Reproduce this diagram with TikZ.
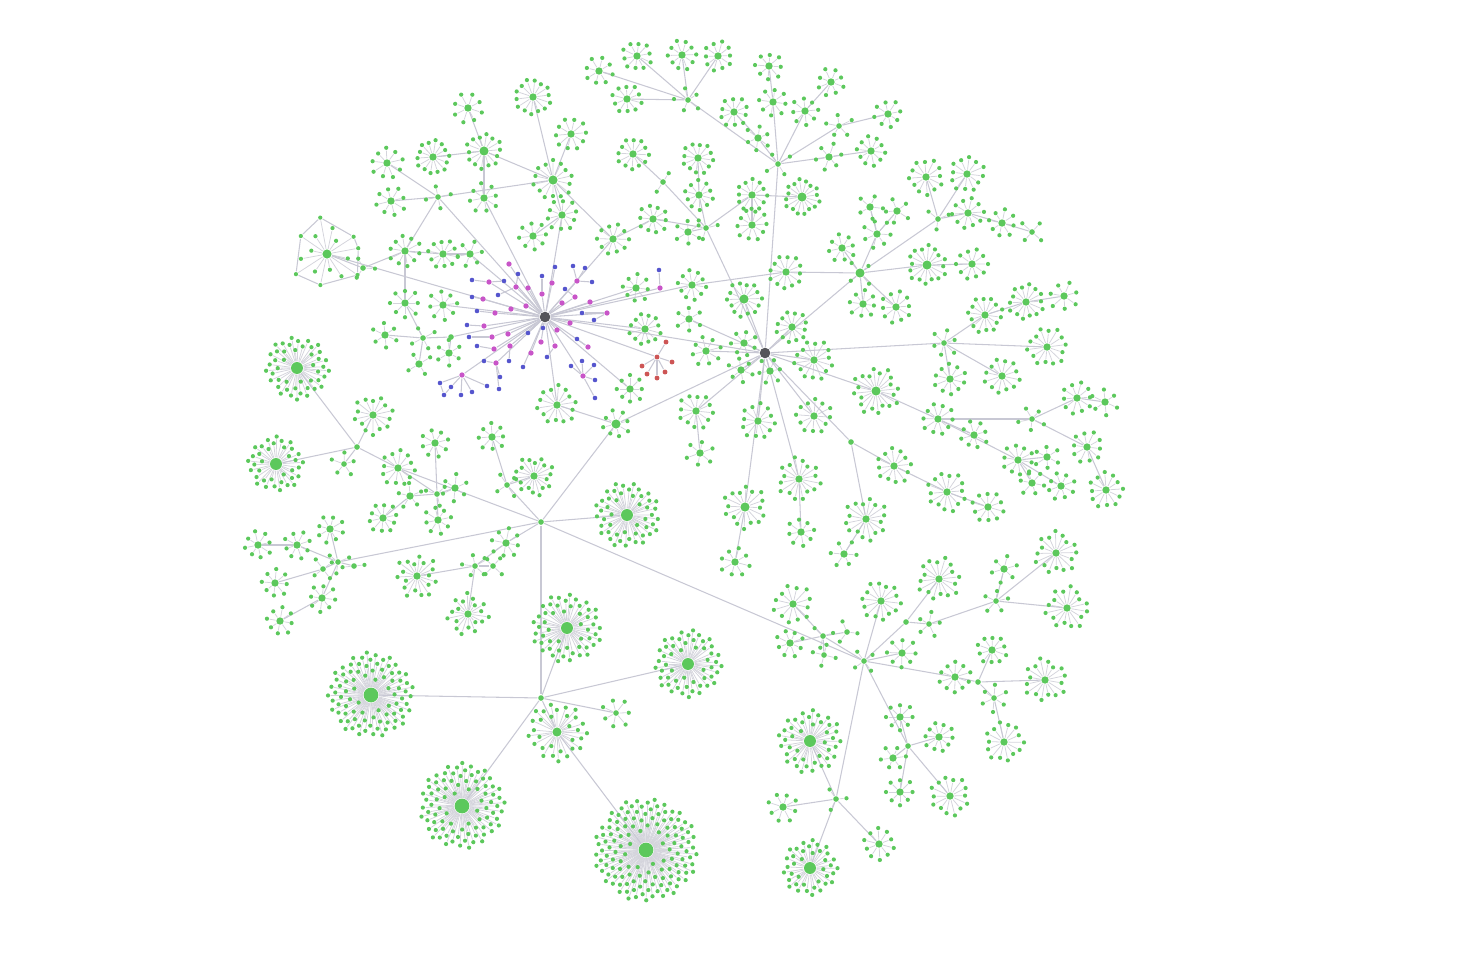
\documentclass[tikz,border=0pt]{standalone}
\usetikzlibrary{positioning}

\definecolor{leafgreen}{RGB}{92,200,92}
\definecolor{edgegray}{RGB}{200,200,212}
\definecolor{spokegray}{RGB}{212,212,220}
\definecolor{hubgray}{RGB}{85,85,90}
\definecolor{magcol}{RGB}{200,85,200}
\definecolor{bluecol}{RGB}{85,85,205}
\definecolor{redcol}{RGB}{205,85,85}

\pgfdeclarelayer{edges}
\pgfsetlayers{edges,main}

\tikzset{
  leaf/.style={circle, fill=leafgreen, inner sep=0pt, minimum size=1.2pt},
  junc/.style={circle, fill=leafgreen, inner sep=0pt, minimum size=1.6pt},
  ctr/.style={circle, fill=leafgreen, inner sep=0pt, minimum size=2.1pt},
  ctrm/.style={circle, fill=leafgreen, inner sep=0pt, minimum size=2.6pt},
  ctrl/.style={circle, fill=leafgreen, inner sep=0pt, minimum size=3.4pt},
  ctrx/.style={circle, fill=leafgreen, inner sep=0pt, minimum size=4.2pt},
  hub/.style={circle, fill=hubgray, inner sep=0pt, minimum size=3pt},
  magdot/.style={circle, fill=magcol, inner sep=0pt, minimum size=1.5pt},
  bluedot/.style={circle, fill=bluecol, inner sep=0pt, minimum size=1.3pt},
  reddot/.style={circle, fill=redcol, inner sep=0pt, minimum size=1.4pt},
  spoke/.style={draw=spokegray, line width=0.22pt},
  link/.style={draw=edgegray, line width=0.3pt}
}

% name, x, y, leaves, outer radius, inner radius, centre style
\newcommand{\burst}[7]{%
  \node[#7] (#1) at (#2,#3) {};
  \foreach \i in {1,...,#4}{%
    \ifnum#4>24
      \pgfmathsetmacro\ang{mod(\i*0.381966,1)*360+#2}%
      \pgfmathsetmacro\rad{#6+(#5-#6)*sqrt(\i/#4)}%
    \else
      \pgfmathsetmacro\ang{\i/#4*360+#2}%
      \pgfmathsetmacro\rad{#6+(#5-#6)*mod(3*\i,5)/4}%
    \fi
    \node[leaf] (#1-\i) at ({#2+\rad*cos(\ang)},{#3+\rad*sin(\ang)}) {};
  }%
  \begin{pgfonlayer}{edges}
    \foreach \i in {1,...,#4} \draw[spoke] (#1) -- (#1-\i);
  \end{pgfonlayer}%
}

\begin{document}
\begin{tikzpicture}[x=0.01cm,y=-0.01cm]
	\useasboundingbox (0,0) rectangle (1458,954);

	%Hubs
	\node[hub] (hubA) at (545,317) {};
	\node[hub] (hubB) at (765,353) {};

	%Junctions
	\foreach \nm/\x/\y in {jL/541/522, jM/541/698, wJ3/357/447, eJ5/851/442, rJ3/906/622, rJ4/978/682, rJ5/908/746, wH/451/337}
		\node[junc] (\nm) at (\x,\y) {};

	%Clusters
	\foreach \nm/\x/\y/\n/\ra/\rb/\sty in {
		nA/468/108/8/15/13/ctr, nB/533/97/14/18/15/ctr, nC/571/134/10/16/14/ctr,
		nD/387/163/9/16/13/ctr, nE/433/157/14/17/14/ctr, nF/484/151/14/18/14/ctrm,
		nG/391/201/8/15/12/ctr, nH/484/198/8/15/12/ctr, nI/553/180/14/20/16/ctrm,
		nJ/562/215/10/16/13/ctr, nK/533/236/8/14/12/ctr, nL/613/239/10/16/13/ctr,
		nJ1/438/197/4/13/10/junc,
		nM/599/71/8/14/12/ctr, nN/637/56/10/15/12/ctr, nO/682/55/10/15/12/ctr,
		nP/718/56/10/15/12/ctr, nQ/627/99/10/15/12/ctr, nJ2/688/100/5/14/10/junc,
		nR/769/66/8/14/11/ctr, nS/734/112/10/15/12/ctr, nT/773/102/8/14/12/ctr,
		nU/805/111/8/14/11/ctr, nV/831/82/8/14/11/ctr, nJ3/839/126/5/14/10/junc,
		nW/888/114/8/14/11/ctr, nX/758/138/6/13/10/ctr, nJ4/778/164/4/14/10/junc,
		nY/829/157/6/14/11/ctr, nZ/871/151/10/15/12/ctr,
		mA/633/154/12/16/13/ctr, mB/698/158/12/16/13/ctr, mJ1/663/182/2/12/10/junc,
		mC/699/195/10/15/12/ctr, mD/752/195/12/16/13/ctr, mE/802/197/16/18/14/ctrm,
		mF/752/225/10/16/13/ctr, mJ2/706/228/3/12/10/junc, mG/653/219/10/15/12/ctr,
		mH/688/232/6/13/11/ctr, mI/786/272/12/17/14/ctr, mK/636/288/8/14/11/ctr,
		mL/692/285/10/15/12/ctr, mM/744/299/14/18/14/ctrm, mN/645/329/12/16/13/ctr,
		mO/689/319/6/13/11/ctr, mP/792/327/12/16/13/ctr,
		eA/926/177/12/18/14/ctr, eB/967/174/12/18/14/ctr, eJ1/938/219/3/12/10/junc,
		eC/968/213/10/16/13/ctr, eD/1002/223/8/14/11/ctr, eE/1032/232/4/13/10/junc,
		eF/870/207/5/13/11/ctr, eG/897/211/5/13/11/ctr, eH/877/234/7/15/12/ctr,
		eI/842/248/8/14/11/ctr, eJ2/860/273/4/14/10/ctrm, eK/927/265/16/20/15/ctrm,
		eL/972/264/10/16/13/ctr, eM/863/304/8/14/11/ctr, eN/896/307/10/16/13/ctr,
		eO/985/315/14/18/14/ctr, eP/1026/302/14/18/14/ctr, eQ/1064/296/7/15/12/ctr,
		eJ3/944/343/6/14/10/junc, eR/1047/347/14/20/15/ctr, eS/950/379/10/16/13/ctr,
		eT/1002/376/12/18/14/ctr,
		eU/814/360/14/20/15/ctr, eV/876/391/20/24/16/ctrm, eW/814/416/12/18/14/ctr,
		eX/938/419/10/16/13/ctr, eY/974/435/8/14/11/ctr, eJ4/1032/419/5/14/10/junc,
		eZ/1077/398/10/16/13/ctr, fA/1105/402/6/14/11/ctr, fB/1018/460/10/16/13/ctr,
		fC/1047/457/6/13/10/ctr, fD/1087/447/10/16/13/ctr, fE/1106/490/12/18/14/ctr,
		fF/1032/483/6/13/10/ctr, fG/1061/486/8/14/11/ctr, fH/894/466/12/18/14/ctr,
		fI/947/492/14/20/15/ctr, fJ/988/507/10/16/13/ctr, fK/866/519/16/22/15/ctr,
		fL/844/554/6/14/11/ctr, fM/799/479/16/22/15/ctr, fN/801/532/8/14/11/ctr,
		cA/706/351/8/15/12/ctr, cB/744/343/7/13/11/ctr, cC/741/370/6/13/10/ctr,
		cD/770/371/6/13/10/ctr, cE/696/411/12/18/14/ctr, cF/700/453/6/14/11/ctr,
		cG/758/421/12/18/14/ctr, cH/745/507/16/22/15/ctrm, cI/735/562/8/15/12/ctr,
		cJ/557/405/14/20/15/ctr, cK/630/389/8/14/11/ctr, cL/616/424/8/14/11/ctrm,
		cM/627/515/48/33/11/ctrl,
		wA/327/254/16/37/16/ctrm, wJ1/363/268/3/12/10/junc, wB/405/251/10/16/13/ctr,
		wC/443/254/10/15/12/ctr, wD/470/254/6/13/11/ctr, wE/405/303/8/15/12/ctr,
		wF/443/305/8/15/12/ctr, wG/385/335/6/13/11/ctr, wJ2/423/338/4/13/10/junc,
		wI/419/364/4/13/10/ctr, wK/449/353/6/13/11/ctr, wL/297/368/45/32/11/ctrl,
		wM/373/415/14/20/14/ctr, wN/276/464/36/28/10/ctrl, wO/344/464/5/13/10/junc,
		wP/398/468/12/18/14/ctr, wQ/435/443/8/14/12/ctr, wJ4/437/494/3/12/10/junc,
		wR/410/496/5/13/11/ctr, wS/455/488/6/14/11/ctr, wT/383/518/10/15/12/ctr,
		wU/438/520/8/14/11/ctr, wV/492/437/8/14/11/ctr, wJ5/507/485/4/13/10/junc,
		wX/534/476/18/20/13/ctr,
		sJ1/338/562/3/12/10/junc, sA/258/545/8/14/11/ctr, sB/297/545/8/14/11/ctr,
		sC/330/529/8/14/11/ctr, sJ2/323/569/4/12/10/junc, sD/275/583/8/14/11/ctr,
		sE/322/598/8/14/11/ctr, sF/280/621/8/14/11/ctr, sG/354/566/2/12/10/junc,
		sH/417/576/18/22/12/ctr, sJ3/475/566/5/14/10/junc, sI/506/543/8/15/12/ctr,
		sK/493/566/4/12/10/junc, sL/468/614/18/21/11/ctr,
		sM/567/628/52/35/11/ctrl, sN/688/664/52/34/11/ctrl, sO/616/713/7/15/12/junc,
		sP/557/732/30/30/10/ctrm, sQ/371/695/85/43/11/ctrx, sR/462/806/85/43/11/ctrx,
		sS/646/850/130/52/12/ctrx,
		rA/793/604/12/20/15/ctr, rB/881/601/14/20/15/ctr, rC/939/579/16/22/15/ctr,
		rD/1056/553/16/22/15/ctr, rE/1004/569/6/14/11/ctr, rJ1/996/601/5/13/10/junc,
		rF/1067/608/16/22/15/ctr, rG/790/643/8/14/11/ctr, rJ2/823/636/3/12/10/junc,
		rH/847/632/3/12/10/junc, rI/824/655/4/12/10/junc, rK/929/624/5/13/10/junc,
		rL/902/653/8/15/12/ctr, rM/955/677/10/16/13/ctr, rN/992/650/10/15/12/ctr,
		rO/1045/680/16/22/15/ctr, rP/994/698/6/14/11/junc, rQ/1004/742/14/20/15/ctr,
		rR/900/717/8/14/11/ctr, rS/939/737/10/15/12/ctr, rT/893/758/6/13/10/ctr,
		rU/900/792/8/14/11/ctr, rV/950/796/14/20/15/ctr, rW/810/741/42/32/10/ctrl,
		rJ6/836/799/3/12/10/junc, rX/783/807/8/15/12/ctr, rY/879/844/10/16/13/ctr,
		rZ/810/868/38/28/9/ctrl, jR/864/661/4/12/10/junc}
		{\burst{\nm}{\x}{\y}{\n}{\ra}{\rb}{\sty}}

	%Purple group
	\foreach \nm/\x/\y in {m1/509/264, m2/489/282, m3/516/287, m4/528/288, m5/552/283,
		m6/577/281, m7/575/297, m8/562/303, m9/590/302, m10/607/313, m11/483/299,
		m12/495/313, m13/511/309, m14/526/306, m15/542/294, m16/570/323, m17/557/330,
		m18/484/326, m19/492/337, m20/508/334, m21/510/346, m22/494/349, m23/496/363,
		m24/541/342, m25/555/346, m26/531/353, m27/588/347, m28/583/376, m29/462/375,
		m30/660/288}
		\node[magdot] (\nm) at (\x,\y) {};
	\foreach \nm/\x/\y in {b1/518/274, b2/504/281, b3/472/280, b4/472/297, b5/498/295,
		b6/477/311, b7/542/276, b8/555/267, b9/573/266, b10/585/268, b11/592/282,
		b12/565/289, b13/582/313, b14/594/320, b15/543/328, b16/528/333, b17/467/325,
		b18/469/337, b19/477/346, b20/484/361, b21/509/361, b22/500/377, b23/487/386,
		b24/499/389, b25/461/395, b26/451/387, b27/444/395, b28/440/383, b29/472/392,
		b30/523/367, b31/547/357, b32/577/339, b33/582/361, b34/571/366, b35/594/365,
		b36/595/380, b37/595/398, b38/659/270}
		\node[bluedot] (\nm) at (\x,\y) {};

	%Red group
	\node[reddot] (rd) at (657,357) {};
	\foreach \x/\y [count=\i] in {666/342, 642/366, 647/374, 657/378, 665/372, 672/362}
		\node[reddot] (rd-\i) at (\x,\y) {};

	\begin{pgfonlayer}{edges}
		\foreach \i in {1,...,30} \draw[link] (hubA) -- (m\i);
		\foreach \a/\b in {m3/b1, m2/b2, m2/b3, m11/b4, m3/b5, m12/b6, m15/b7, m5/b8,
			m6/b9, m6/b10, m6/b11, m7/b12, m10/b13, m10/b14, hubA/b15, hubA/b16, m18/b17,
			m19/b18, m22/b19, m23/b20, m21/b21, m23/b22, m29/b23, m23/b24, m29/b25,
			m29/b26, b26/b27, m29/b28, m29/b29, hubA/b30, m25/b31, m27/b32, m28/b33,
			m28/b34, m28/b35, m28/b36, m28/b37, m30/b38, b27/b28}
			\draw[link] (\a) -- (\b);
		\draw[link] (hubA) -- (rd);
		\foreach \i in {1,...,6} \draw[link] (rd) -- (rd-\i);
		\foreach \i/\j in {1/3, 3/6, 6/8, 8/11, 11/13, 13/16, 16/1}
			\draw[link] (wA-\i) -- (wA-\j);

		\foreach \a/\b in {
			nF/nA, nF/nE, nF/nH, nF/nI, nI/nB, nI/nC, nI/nJ, nJ/nK, nJ/hubA, nI/nJ1,
			nJ1/nD, nJ1/nG, nJ1/wB, nJ1/hubA, nH/hubA, nI/nL, nL/hubA, nL/mG,
			nJ2/nM, nJ2/nN, nJ2/nO, nJ2/nP, nJ2/nQ, nJ2/nJ4, nJ4/nX, nX/nS, nJ4/nT,
			nT/nR, nJ4/nU, nU/nV, nJ4/nJ3, nJ3/nW, nJ4/nY, nY/nZ, nJ4/hubB,
			mA/mJ1, mJ1/mJ2, mB/mC, mC/mJ2, mD/mE, mD/mF, mD/mJ2, mG/mJ2, mH/mJ2,
			mJ2/hubB, mL/mI, mI/eJ2, mL/hubA, mK/hubA, mM/hubB, mN/hubA, mO/hubB,
			mP/hubB,
			eJ2/hubB, eJ2/eI, eJ2/eH, eH/eF, eH/eG, eJ2/eM, eJ2/eN, eJ2/eK, eK/eL,
			eJ2/eJ1, eJ1/eA, eJ1/eB, eJ1/eC, eC/eD, eD/eE,
			eJ3/hubB, eJ3/eO, eO/eP, eP/eQ, eJ3/eR, eJ3/eS, eJ3/eT,
			eU/hubB, eV/hubB, eW/hubB, eV/eX, eX/eY, eX/eJ4, eX/fB, eJ4/eZ, eZ/fA,
			eJ4/fD, fD/fE, fB/fC, fB/fF, fB/fG,
			eJ5/hubB, eJ5/fH, fH/fI, fI/fJ, eJ5/fK, fK/fL, fM/hubB, fM/fN,
			cA/hubB, cB/hubB, cC/hubB, cD/hubB, cE/hubB, cE/cF, cG/hubB, cH/hubB,
			cH/cI, hubA/hubB, cL/hubB, cL/jL, cJ/hubA, cJ/cL, cK/hubA,
			wA/hubA, wA/wJ1, wJ1/wB, wB/wC, wC/wD, wD/hubA, wB/wE, wE/wJ2, wJ2/wG,
			wJ2/wI, wJ2/wH, wH/hubA, wH/wK, wF/hubA,
			wL/wJ3, wM/wJ3, wN/wJ3, wJ3/wO, wJ3/wP, wP/jL, wP/wJ4, wJ4/wR, wJ4/wS,
			wJ4/wU, wJ4/wQ, wR/wT, wV/wJ5, wJ5/jL, wJ5/wX,
			sJ1/jL, sJ1/sB, sB/sA, sJ1/sC, sJ1/sJ2, sJ2/sD, sJ1/sE, sE/sF, sJ1/sG,
			sH/sJ3, sJ3/sI, sI/jL, sJ3/sK, sJ3/sL,
			jL/cM, jL/jM, jL/jR,
			jM/sQ, jM/sR, jM/sM, jM/sN, jM/sO, jM/sP, sP/sS,
			jR/rJ2, rJ2/rA, rJ2/rG, rJ2/rH, rJ2/rI, jR/rJ3, rJ3/rC, rJ3/rK, rK/rJ1,
			rJ1/rD, rJ1/rE, rJ1/rF, jR/rL, jR/rB, jR/rM, rM/rJ4, rJ4/rN, rJ4/rO,
			rJ4/rP, rP/rQ, jR/rJ5, rJ5/rR, rJ5/rS, rJ5/rT, rJ5/rU, rJ5/rV,
			jR/rJ6, rJ6/rW, rJ6/rX, rJ6/rY, rJ6/rZ}
			\draw[link] (\a) -- (\b);
	\end{pgfonlayer}
\end{tikzpicture}
\end{document}
